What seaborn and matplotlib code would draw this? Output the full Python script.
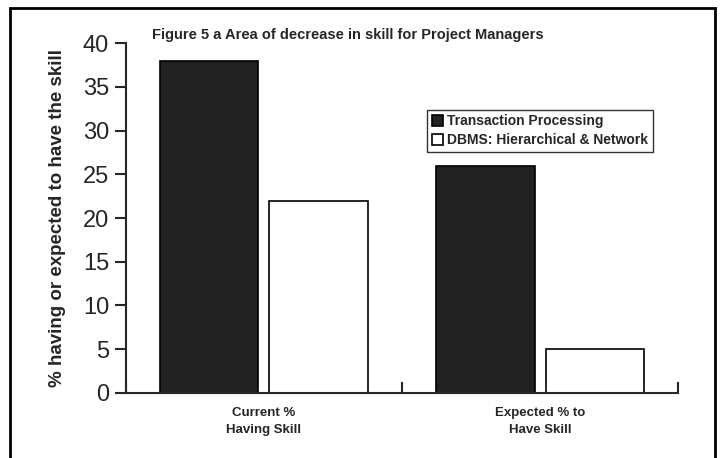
import pandas as pd
import matplotlib.pyplot as plt
import seaborn as sns
from matplotlib.patches import Rectangle

categories = ["Current %\nHaving Skill", "Expected % to\nHave Skill"]
skills = ["Transaction Processing", "DBMS: Hierarchical & Network"]
transaction = [38, 26]
dbms = [22, 5]

df = pd.DataFrame({
    "Category": categories * 2,
    "Skill": [skills[0]] * 2 + [skills[1]] * 2,
    "Value": transaction + dbms,
})

sns.set_style("ticks")
plt.rcParams['font.family'] = ['Liberation Sans', 'DejaVu Sans']

fig = plt.figure(figsize=(7.23, 4.58), dpi=100)
ax = fig.add_axes([0.174, 0.142, 0.764, 0.764])

sns.barplot(data=df, x="Category", y="Value", hue="Skill", hue_order=skills,
            palette=["#222222", "white"], edgecolor="black", linewidth=1.2,
            width=0.79, gap=0.1, saturation=1, ax=ax)

ax.set_ylim(0, 40)
ax.set_xlim(-0.5, 1.5)
ax.set_yticks(range(0, 41, 5))
ax.tick_params(axis='y', labelsize=17, length=8, width=1.5, direction='out', pad=4)
ax.tick_params(axis='x', which='major', length=0, pad=10)
ax.set_xticks([-0.5, 0.5, 1.5], minor=True)
ax.tick_params(axis='x', which='minor', direction='in', length=8, width=1.5)
for lab in ax.get_xticklabels():
    lab.set_fontsize(9.5)
    lab.set_fontweight('bold')
    lab.set_fontstretch('condensed')
    lab.set_linespacing(1.6)
ax.set_xlabel("")
ax.set_ylabel("% having or expected to have the skill", fontsize=13.5,
              fontweight='bold', labelpad=12)
sns.despine(ax=ax)
ax.spines['left'].set_linewidth(1.5)
ax.spines['bottom'].set_linewidth(1.5)

ax.legend(loc='upper left', bbox_to_anchor=(0.545, 0.81), frameon=True,
          fancybox=False, edgecolor='black',
          prop={'weight': 'bold', 'size': 10}, handlelength=0.8,
          handleheight=0.8, handletextpad=0.3, borderpad=0.35,
          labelspacing=0.35, borderaxespad=0)

fig.text(0.21, 0.924, "Figure 5 a Area of decrease in skill for Project Managers",
         fontsize=10.5, fontweight='bold', va='center')

fig.add_artist(Rectangle((0.014, -0.05), 0.975, 1.032, transform=fig.transFigure,
                         fill=False, edgecolor='black', linewidth=2))

fig.savefig("out.png", dpi=100)
